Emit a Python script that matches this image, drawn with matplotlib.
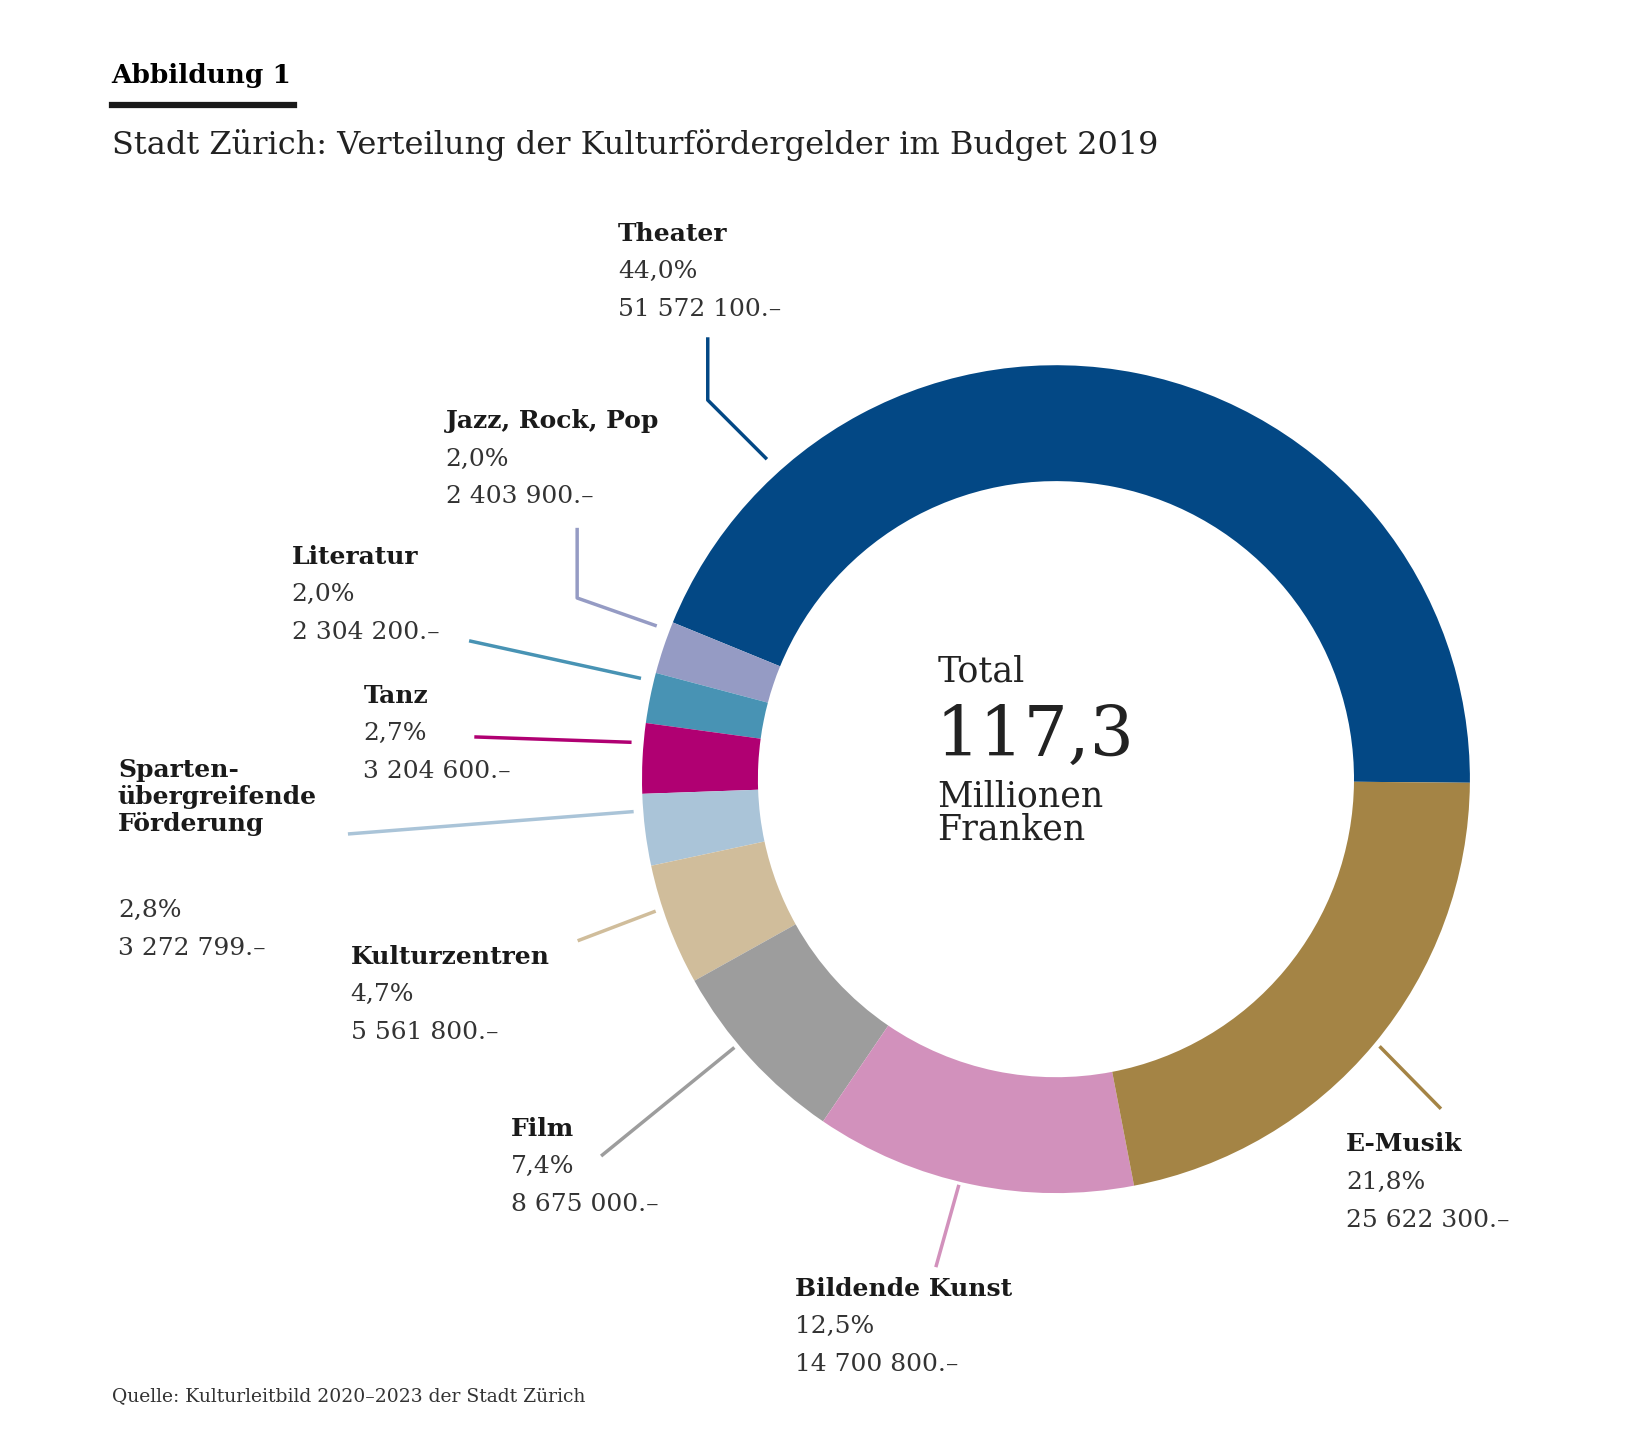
import matplotlib
matplotlib.use("Agg")
import matplotlib.pyplot as plt
from matplotlib.lines import Line2D

categories = ["Theater", "Jazz, Rock, Pop", "Literatur", "Tanz",
              "Sparten-\nübergreifende\nFörderung", "Kulturzentren", "Film",
              "Bildende Kunst", "E-Musik"]
percents = [44.0, 2.0, 2.0, 2.7, 2.8, 4.7, 7.4, 12.5, 21.8]
amounts = ["51 572 100.–", "2 403 900.–", "2 304 200.–", "3 204 600.–",
           "3 272 799.–", "5 561 800.–", "8 675 000.–", "14 700 800.–", "25 622 300.–"]
values = [51572100, 2403900, 2304200, 3204600, 3272799, 5561800, 8675000, 14700800, 25622300]
colors = ["#034885", "#959bc4", "#4893b4", "#b00072", "#aac4d8",
          "#d0bd9b", "#9d9d9d", "#d291bc", "#a48445"]

FONT = "DejaVu Serif"
fig = plt.figure(figsize=(16.43, 14.55), dpi=100)
W, H = 1560, 1382
def fx(x): return x / W
def fy(y): return 1 - y / H

ax = fig.add_axes([0.3907, 0.180, 0.504, 0.569])
ax.pie(values, colors=colors, startangle=-0.5, counterclock=True, radius=1,
       wedgeprops=dict(width=0.28, edgecolor="none"))
ax.set_xlim(-1, 1); ax.set_ylim(-1, 1); ax.set_aspect("equal"); ax.axis("off")

fig.text(fx(106), fy(72), "Abbildung 1", fontsize=19, fontweight="bold", family=FONT, va="center")
fig.add_artist(Line2D([fx(106), fx(279)], [fy(100), fy(100)], color="#1a1a1a", lw=4.5))
fig.text(fx(106), fy(138), "Stadt Zürich: Verteilung der Kulturfördergelder im Budget 2019",
         fontsize=23, family=FONT, va="center", color="#222")
fig.text(fx(106), fy(1326), "Quelle: Kulturleitbild 2020–2023 der Stadt Zürich",
         fontsize=13.5, family=FONT, va="center", color="#333")

fig.text(fx(890), fy(638), "Total", fontsize=25, family=FONT, va="center", color="#222")
fig.text(fx(888), fy(700), "117,3", fontsize=50, family=FONT, va="center", color="#222")
fig.text(fx(890), fy(772), "Millionen\nFranken", fontsize=25, family=FONT, va="center",
         color="#222", linespacing=0.95)

label_pos = [(587, 222), (423, 400), (277, 529), (345, 661), (112, 757),
             (333, 909), (485, 1072), (755, 1224), (1278, 1087)]
leaders = [[(672, 322), (672, 380), (727, 435)],
           [(548, 503), (548, 568), (622, 594)],
           [(447, 609), (607, 644)],
           [(452, 700), (598, 705)],
           [(332, 792), (600, 771)],
           [(550, 893), (621, 866)],
           [(572, 1097), (696, 996)],
           [(889, 1202), (910, 1127)],
           [(1367, 1052), (1311, 995)]]

for cat, p, a, (x, y), ld, c in zip(categories, percents, amounts, label_pos, leaders, colors):
    nlines = cat.count("\n") + 1
    fig.text(fx(x), fy(y), cat, fontsize=18, fontweight="bold", family=FONT,
             va="center", color="#1a1a1a", linespacing=1.15)
    y2 = y + 36 * (nlines - 1) + 36
    fig.text(fx(x), fy(y2), f"{p:.1f}%".replace(".", ","), fontsize=18, family=FONT,
             va="center", color="#333")
    fig.text(fx(x), fy(y2 + 36), a, fontsize=18, family=FONT, va="center", color="#333")
    xs = [fx(px) for px, py in ld]; ys = [fy(py) for px, py in ld]
    fig.add_artist(Line2D(xs, ys, color=c, lw=2.5))

fig.savefig("out.png", dpi=100, facecolor="white")
